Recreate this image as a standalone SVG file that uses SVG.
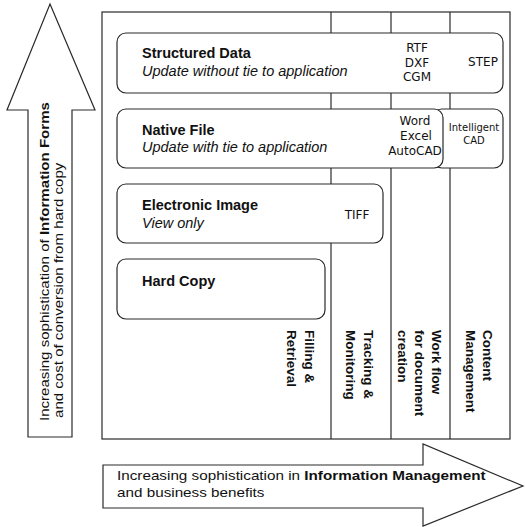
<svg xmlns="http://www.w3.org/2000/svg" width="525" height="527" viewBox="0 0 525 527">
<style>
.ln{fill:none;stroke:#2a2a2a;stroke-width:1.2}
.box{fill:#fff;stroke:#2a2a2a;stroke-width:1.2}
.t{font-family:"Liberation Sans",Arial,sans-serif;fill:#111}
.b{font-weight:bold}
.title{font-family:"Liberation Sans",Arial,sans-serif;font-weight:bold;font-size:14.5px;fill:#111}
.sub{font-family:"Liberation Sans",Arial,sans-serif;font-style:italic;font-size:14.5px;fill:#111}
.fmt{font-family:"DejaVu Sans",sans-serif;font-size:12px;fill:#111;text-anchor:middle}
.col{font-family:"Liberation Sans",Arial,sans-serif;font-weight:bold;font-size:13.5px;fill:#111}
</style>
<rect width="525" height="527" fill="#fff"/>

<g id="up-arrow">
<polygon class="ln" points="50,4 95,110 72,110 72,437 28,437 28,110 7,110 50,4"/>
<text class="t" font-size="13" transform="translate(49,421) rotate(-90) scale(1.16,1)">Increasing sophistication of <tspan class="b">Information Forms</tspan></text>
<text class="t" font-size="13" transform="translate(63,418) rotate(-90) scale(1.16,1)">and cost of conversion from hard copy</text>
</g>

<g id="frame">
<rect class="ln" x="102" y="12" width="408" height="427"/>
<line class="ln" x1="331" y1="12" x2="331" y2="439"/>
<line class="ln" x1="391" y1="12" x2="391" y2="439"/>
<line class="ln" x1="450" y1="12" x2="450" y2="439"/>
</g>

<g id="structured-data">
<rect class="box" x="117" y="33" width="386" height="60" rx="9"/>
<text class="title" x="142" y="58">Structured Data</text>
<text class="sub" x="142" y="76">Update without tie to application</text>
<text class="fmt" x="417" y="52">RTF</text>
<text class="fmt" x="417" y="67">DXF</text>
<text class="fmt" x="417" y="81">CGM</text>
<text class="fmt" x="483" y="66">STEP</text>
</g>

<g id="intelligent-cad">
<rect class="box" x="433" y="109" width="70" height="59" rx="9"/>
<text class="fmt" style="font-size:10px" x="474" y="131">Intelligent</text>
<text class="fmt" style="font-size:10px" x="474" y="144">CAD</text>
</g>

<g id="native-file">
<rect class="box" x="117" y="109" width="326" height="59" rx="9"/>
<text class="title" x="142" y="135">Native File</text>
<text class="sub" x="142" y="152">Update with tie to application</text>
<text class="fmt" x="415" y="125">Word</text>
<text class="fmt" x="416" y="140">Excel</text>
<text class="fmt" x="415" y="155">AutoCAD</text>
</g>

<g id="electronic-image">
<rect class="box" x="117" y="184" width="266" height="59" rx="9"/>
<text class="title" x="142" y="210">Electronic Image</text>
<text class="sub" x="142" y="228">View only</text>
<text class="fmt" x="357" y="219">TIFF</text>
</g>

<g id="hard-copy">
<rect class="box" x="117" y="259" width="208" height="60" rx="9"/>
<text class="title" x="142" y="286">Hard Copy</text>
</g>

<g id="filing-retrieval">
<text class="col" transform="translate(305,330) rotate(90)">Filling &amp;</text>
<text class="col" transform="translate(287,330) rotate(90)">Retrieval</text>
</g>
<g id="tracking-monitoring">
<text class="col" transform="translate(364,330) rotate(90)">Tracking &amp;</text>
<text class="col" transform="translate(346,330) rotate(90)">Monitoring</text>
</g>
<g id="workflow">
<text class="col" transform="translate(432,330) rotate(90)">Work flow</text>
<text class="col" transform="translate(415,330) rotate(90)">for document</text>
<text class="col" transform="translate(398,330) rotate(90)">creation</text>
</g>
<g id="content-management">
<text class="col" transform="translate(483,330) rotate(90)">Content</text>
<text class="col" transform="translate(466,330) rotate(90)">Management</text>
</g>

<g id="right-arrow">
<polygon class="ln" points="103,465 423,465 423,444 523,486 423,526 423,508 103,508 103,465"/>
<text class="t" font-size="12.5" transform="translate(117,480) scale(1.22,1)">Increasing sophistication in <tspan class="b">Information Management</tspan></text>
<text class="t" font-size="12.5" transform="translate(117,497) scale(1.22,1)">and business benefits</text>
</g>
</svg>
